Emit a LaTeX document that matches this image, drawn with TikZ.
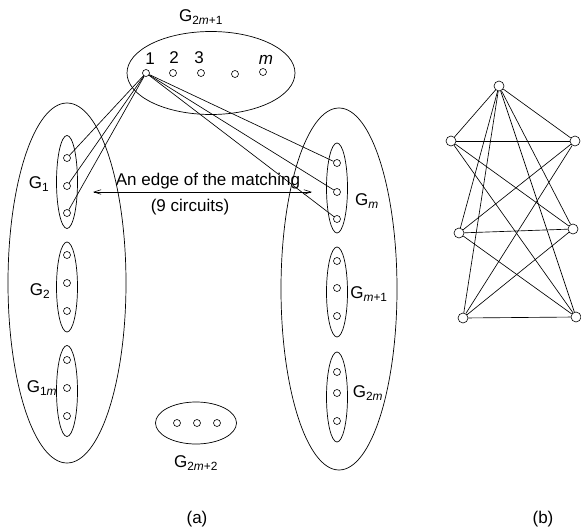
\documentclass[tikz,border=0pt]{standalone}
\usepackage{fontspec}
\setmainfont{Liberation Sans}
\usetikzlibrary{arrows.meta,shapes.geometric}
\tikzset{
  grp/.style={
    draw,
    ellipse,
    line width=0.7pt,
    inner sep=0pt
  },
  vtx/.style={draw, circle, line width=0.6pt, fill=white, inner sep=0pt, minimum size=7pt},
  bigvtx/.style={vtx, minimum size=10pt},
  lbl/.style={font=\fontsize{17}{20}\selectfont, inner sep=1pt},
  link/.style={line width=0.65pt},
  match/.style={{Straight Barb[length=2.5mm,width=1.6mm]}-{Straight Barb[length=2.5mm,width=1.6mm]}, line width=0.6pt}
}

\begin{document}
\begin{tikzpicture}[x=1pt, y=-1pt]
    \useasboundingbox (0,0) rectangle (581,530);

    % (a) groups
    \node[grp, minimum width=168pt, minimum height=83pt] (top) at (211,73) {};
    \node[grp, minimum width=118pt, minimum height=360pt] (left) at (67,283) {};
    \node[grp, minimum width=116pt, minimum height=362pt] (right) at (339,289) {};
    \node[grp, minimum width=81pt, minimum height=42pt] (last) at (196,423) {};

    \node[grp, minimum width=21pt, minimum height=93pt] (g1) at (67,182) {};
    \node[grp, minimum width=21pt, minimum height=90pt] (g2) at (67,287) {};
    \node[grp, minimum width=21pt, minimum height=91pt] (g1m) at (67,391) {};
    \node[grp, minimum width=21pt, minimum height=90pt] (gm) at (337,188) {};
    \node[grp, minimum width=21pt, minimum height=90pt] (gm1) at (337,292) {};
    \node[grp, minimum width=21pt, minimum height=90pt] (g2m) at (337,397) {};

    % vertices
    \node[vtx] (t1) at (146,73) {};
    \node[vtx] (t2) at (173,73) {};
    \node[vtx] (t3) at (201,73) {};
    \node[vtx] (t4) at (235,74) {};
    \node[vtx] (tm) at (263,72) {};

    \node[vtx] (a1) at (67,158) {};
    \node[vtx] (a2) at (67,186) {};
    \node[vtx] (a3) at (67,213) {};
    \node[vtx] (b1) at (67,255) {};
    \node[vtx] (b2) at (67,283) {};
    \node[vtx] (b3) at (67,311) {};
    \node[vtx] (c1) at (67,360) {};
    \node[vtx] (c2) at (67,388) {};
    \node[vtx] (c3) at (67,416) {};

    \node[vtx] (d1) at (337,163) {};
    \node[vtx] (d2) at (337,192) {};
    \node[vtx] (d3) at (337,219) {};
    \node[vtx] (e1) at (337,261) {};
    \node[vtx] (e2) at (337,288) {};
    \node[vtx] (e3) at (337,316) {};
    \node[vtx] (f1) at (337,372) {};
    \node[vtx] (f2) at (337,393) {};
    \node[vtx] (f3) at (337,421) {};

    \node[vtx] (h1) at (177,423) {};
    \node[vtx] (h2) at (197,423) {};
    \node[vtx] (h3) at (217,423) {};

    \draw[link] (t1) -- (a1);
    \draw[link] (t1) -- (a2);
    \draw[link] (t1) -- (a3);
    \draw[link] (t1) -- (d1);
    \draw[link] (t1) -- (d2);
    \draw[link] (t1) -- (d3);

    \coordinate (mL) at (93,192);
    \coordinate (mR) at (312,192);
    \draw[match] (mL) -- (mR);

    % labels
    \node[lbl] at (201,17) {G\textsubscript{2\textit{m}+1}};
    \node[lbl] at (150,59) {1};
    \node[lbl] at (174,58) {2};
    \node[lbl] at (199,58) {3};
    \node[lbl] at (266,60) {\textit{m}};
    \node[lbl] at (39,184) {G\textsubscript{1}};
    \node[lbl] at (40,291) {G\textsubscript{2}};
    \node[lbl] at (42,388) {G\textsubscript{1\textit{m}}};
    \node[lbl] at (367,201) {G\textsubscript{\textit{m}}};
    \node[lbl] at (369,294) {G\textsubscript{\textit{m}+1}};
    \node[lbl] at (368,393) {G\textsubscript{2\textit{m}}};
    \node[lbl] at (196,463) {G\textsubscript{2\textit{m}+2}};
    \node[lbl] at (208,181) {An edge of the matching};
    \node[lbl] at (190,207) {(9 circuits)};
    \node[lbl] at (197,519) {(a)};

    % (b)
    \node[bigvtx] (p0) at (499,86) {};
    \node[bigvtx] (p1) at (451,141) {};
    \node[bigvtx] (q1) at (575,141) {};
    \node[bigvtx] (p2) at (459,233) {};
    \node[bigvtx] (q2) at (573,229) {};
    \node[bigvtx] (p3) at (463,318) {};
    \node[bigvtx] (q3) at (576,317) {};

    \draw[link] (p0) -- (p1);
    \draw[link] (p0) -- (q1);
    \draw[link] (p0) -- (p2);
    \draw[link] (p0) -- (q2);
    \draw[link] (p0) -- (p3);
    \draw[link] (p0) -- (q3);
    \draw[link] (p1) -- (q1);
    \draw[link] (p1) -- (q2);
    \draw[link] (p1) -- (q3);
    \draw[link] (p2) -- (q1);
    \draw[link] (p2) -- (q2);
    \draw[link] (p2) -- (q3);
    \draw[link] (p3) -- (q1);
    \draw[link] (p3) -- (q2);
    \draw[link] (p3) -- (q3);
    \node[lbl] at (543,519) {(b)};
\end{tikzpicture}
\end{document}
